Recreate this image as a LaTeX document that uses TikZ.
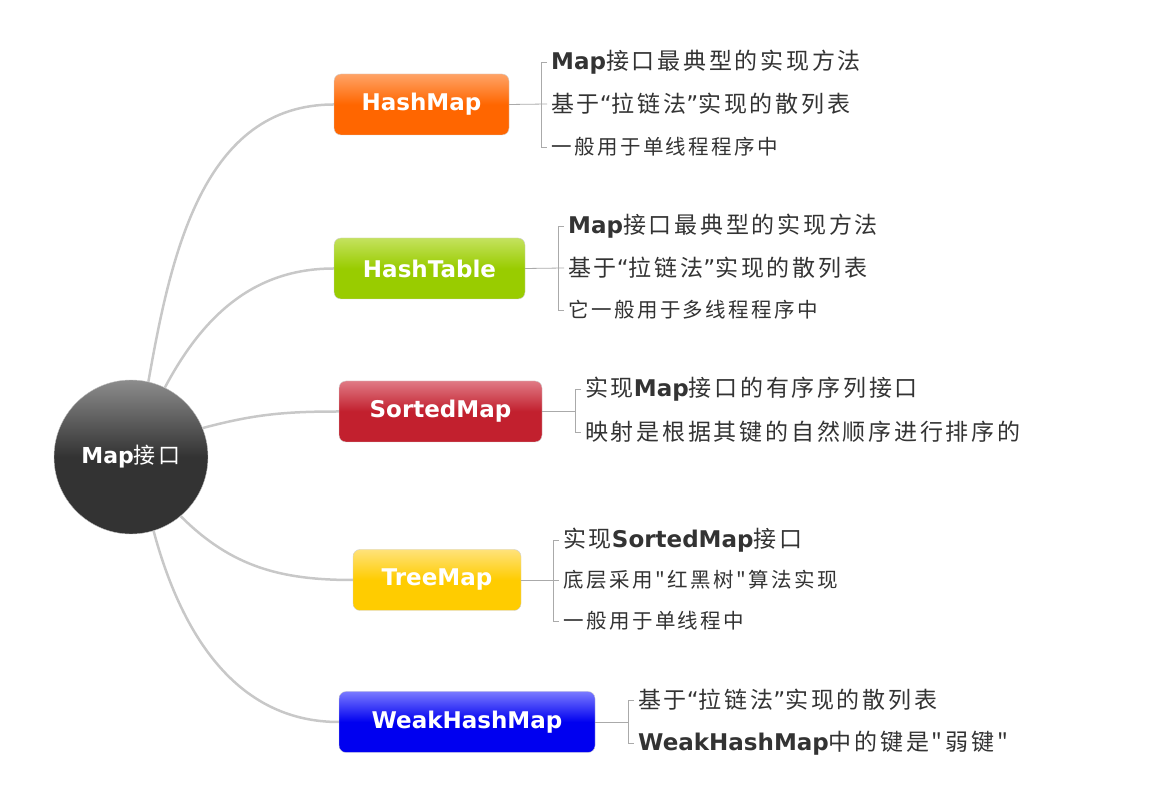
\documentclass[tikz,border=0pt]{standalone}
\usepackage{fontspec}
\setmainfont{DejaVu Sans}
\newfontfamily\cjk{Noto Sans CJK SC}[LetterSpace=12]
\newfontfamily\dv{DejaVu Sans}

\definecolor{roottop}{HTML}{8C8C8C}
\definecolor{rootbot}{HTML}{333333}
\definecolor{hmtop}{HTML}{FFA366}
\definecolor{hmbot}{HTML}{FF6600}
\definecolor{httop}{HTML}{C4E25E}
\definecolor{htbot}{HTML}{99CC00}
\definecolor{smtop}{HTML}{E07A85}
\definecolor{smbot}{HTML}{C2202E}
\definecolor{tmtop}{HTML}{FFE27A}
\definecolor{tmbot}{HTML}{FFCC00}
\definecolor{wmtop}{HTML}{7A7AFF}
\definecolor{wmbot}{HTML}{0000F0}
\definecolor{branchgray}{HTML}{C8C8C8}
\definecolor{twiggray}{HTML}{AAAAAA}
\definecolor{txt}{HTML}{333333}

% narrow quotes
\newcommand{\openq}{{\dv “}}
\newcommand{\closeq}{{\dv ”}}

\begin{document}
\begin{tikzpicture}[x=1pt, y=1pt,
    box/.style={rounded corners=7pt, draw=black!18, minimum height=61pt, inner sep=0pt,
        text=white, font=\dv\bfseries\fontsize{23}{26}\selectfont},
    branch/.style={draw=branchgray, line width=2.5pt},
    twig/.style={draw=twiggray, line width=0.8pt},
    big/.style={anchor=west, inner sep=0pt, text=txt, font=\cjk\fontsize{23}{26}\selectfont},
    small/.style={big, font=\cjk\fontsize{20.5}{23}\selectfont}]
    \useasboundingbox (0,0) rectangle (1162,806);

    % Centre circle
    \node[circle, minimum size=154pt, inner sep=0pt, draw=black!25,
        top color=roottop, bottom color=rootbot, middle color=rootbot,
        text=white, font=\cjk\fontsize{22}{24}\selectfont] (root) at (131,349)
        {{\dv\bfseries Map}接口};

    % Coloured boxes
    \node[box, minimum width=175pt, top color=hmtop, bottom color=hmbot, middle color=hmbot] (hashmap) at (421.5,701.5) {HashMap};
    \node[box, minimum width=191pt, top color=httop, bottom color=htbot, middle color=htbot] (hashtable) at (429.5,537.5) {HashTable};
    \node[box, minimum width=203pt, top color=smtop, bottom color=smbot, middle color=smbot] (sortedmap) at (440.5,394.5) {SortedMap};
    \node[box, minimum width=168pt, top color=tmtop, bottom color=tmbot, middle color=tmbot] (treemap) at (437,226) {TreeMap};
    \node[box, minimum width=256pt, top color=wmtop, bottom color=wmbot, middle color=wmbot] (weakmap) at (467,84) {WeakHashMap};

    % Branches from the circle
    \draw[branch] (root.77) to[out=80, in=180] (hashmap.west);
    \draw[branch] (root.64) to[out=62, in=180] (hashtable.west);
    \draw[branch] (root.22) to[out=15, in=180] (sortedmap.west);
    \draw[branch] (root.-50) to[out=-45, in=180] (treemap.west);
    \draw[branch] (root.-73) to[out=-75, in=180] (weakmap.west);

    % HashMap notes
    \node[big] (hm1) at (551,744) {{\dv\bfseries Map}接口最典型的实现方法};
    \node[big] (hm2) at (551,702) {基于\openq 拉链法\closeq 实现的散列表};
    \node[small] (hm3) at (551,659) {一般用于单线程程序中};
    \coordinate (hmb) at ([xshift=-10pt]hm1.west);
    \draw[twig] (hashmap.east) -- ([xshift=-4pt]hm2.west);
    \draw[twig] ([xshift=-4pt]hm1.west) -- (hmb) |- ([xshift=-4pt]hm3.west);

    % HashTable notes
    \node[big] (ht1) at (568,580) {{\dv\bfseries Map}接口最典型的实现方法};
    \node[big] (ht2) at (568,538) {基于\openq 拉链法\closeq 实现的散列表};
    \node[small] (ht3) at (568,496) {它一般用于多线程程序中};
    \coordinate (htb) at ([xshift=-10pt]ht1.west);
    \draw[twig] (hashtable.east) -- ([xshift=-4pt]ht2.west);
    \draw[twig] ([xshift=-4pt]ht1.west) -- (htb) |- ([xshift=-4pt]ht3.west);

    % SortedMap notes
    \node[big] (sm1) at (585,417) {实现{\dv\bfseries Map}接口的有序序列接口};
    \node[big] (sm2) at (585,374) {映射是根据其键的自然顺序进行排序的};
    \coordinate (smb) at ([xshift=-10pt]sm1.west);
    \draw[twig] (sortedmap.east) -- (sortedmap.east -| smb);
    \draw[twig] ([xshift=-4pt]sm1.west) -- (smb) |- ([xshift=-4pt]sm2.west);

    % TreeMap notes
    \node[big] (tm1) at (563,266) {实现{\dv\bfseries SortedMap}接口};
    \node[small] (tm2) at (563,226) {底层采用"红黑树"算法实现};
    \node[small] (tm3) at (563,185) {一般用于单线程中};
    \coordinate (tmb) at ([xshift=-10pt]tm1.west);
    \draw[twig] (treemap.east) -- ([xshift=-4pt]tm2.west);
    \draw[twig] ([xshift=-4pt]tm1.west) -- (tmb) |- ([xshift=-4pt]tm3.west);

    % WeakHashMap notes
    \node[big] (wm1) at (638,106) {基于\openq 拉链法\closeq 实现的散列表};
    \node[big] (wm2) at (638,63) {{\dv\bfseries WeakHashMap}中的键是"弱键"};
    \coordinate (wmb) at ([xshift=-10pt]wm1.west);
    \draw[twig] (weakmap.east) -- (weakmap.east -| wmb);
    \draw[twig] ([xshift=-4pt]wm1.west) -- (wmb) |- ([xshift=-4pt]wm2.west);
\end{tikzpicture}
\end{document}
